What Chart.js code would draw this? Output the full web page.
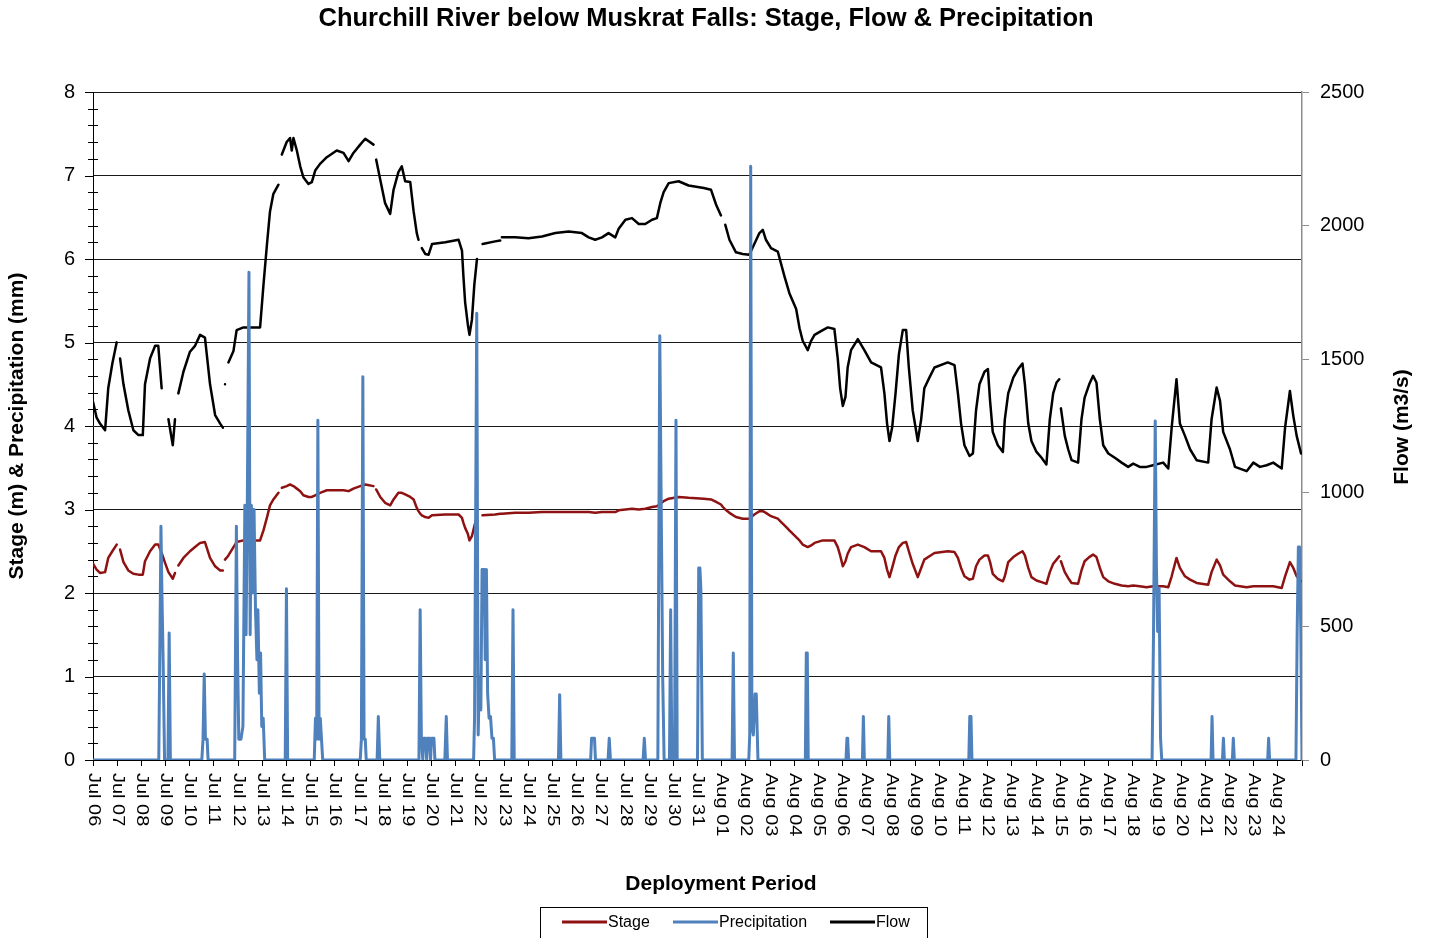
<!DOCTYPE html>
<html>
<head>
<meta charset="utf-8">
<script src="https://cdn.jsdelivr.net/npm/chart.js@4.4.1/dist/chart.umd.min.js"></script>
<style>
html,body{margin:0;padding:0;background:#fff;}
canvas{display:block;}
</style>
</head>
<body>
<canvas id="c" width="1429" height="938"></canvas>
<script>
// ---------------- DATA ----------------
const chartTitle = 'Churchill River below Muskrat Falls: Stage, Flow & Precipitation';
const xTickLabels = [
  'Jul 06','Jul 07','Jul 08','Jul 09','Jul 10','Jul 11','Jul 12','Jul 13','Jul 14','Jul 15',
  'Jul 16','Jul 17','Jul 18','Jul 19','Jul 20','Jul 21','Jul 22','Jul 23','Jul 24','Jul 25',
  'Jul 26','Jul 27','Jul 28','Jul 29','Jul 30','Jul 31','Aug 01','Aug 02','Aug 03','Aug 04',
  'Aug 05','Aug 06','Aug 07','Aug 08','Aug 09','Aug 10','Aug 11','Aug 12','Aug 13','Aug 14',
  'Aug 15','Aug 16','Aug 17','Aug 18','Aug 19','Aug 20','Aug 21','Aug 22','Aug 23','Aug 24'
];
const stageTickLabels = ['0','1','2','3','4','5','6','7','8'];
const flowTickLabels = ['0','500','1000','1500','2000','2500'];

// time in days since Jul 06 00:00 (stage & flow share the same samples)
const sfDays = [
  0.00,0.15,0.29,0.50,0.63,0.80,0.98,1.05,1.12,1.26,1.46,1.67,1.88,2.06,2.15,2.36,2.57,2.70,2.84,2.98,
  3.12,3.30,3.39,3.45,3.53,3.74,4.01,4.22,4.43,4.63,4.84,5.05,5.26,5.37,5.41,5.46,5.52,5.60,5.81,5.94,
  6.22,6.63,6.91,7.05,7.19,7.32,7.46,7.67,7.74,7.81,8.01,8.15,8.22,8.29,8.43,8.57,8.70,8.91,9.05,9.19,
  9.39,9.67,10.08,10.36,10.57,10.77,11.05,11.26,11.60,11.65,11.71,11.88,12.08,12.29,12.43,12.63,12.77,12.91,13.12,13.26,
  13.39,13.46,13.53,13.60,13.74,13.88,14.02,14.57,15.12,15.26,15.32,15.39,15.50,15.57,15.67,15.77,15.88,16.00,16.11,16.63,
  16.84,16.87,16.91,17.46,18.01,18.57,19.12,19.67,20.22,20.50,20.77,21.05,21.32,21.60,21.74,22.02,22.29,22.57,22.84,23.12,
  23.32,23.46,23.60,23.81,24.22,24.63,25.26,25.56,25.77,25.97,26.05,26.15,26.32,26.59,26.87,27.14,27.35,27.56,27.70,27.83,
  28.04,28.32,28.46,28.60,28.80,29.08,29.22,29.35,29.56,29.70,29.84,30.18,30.39,30.66,30.80,30.90,31.01,31.12,31.21,31.35,
  31.63,31.90,32.18,32.59,32.73,32.84,32.94,33.05,33.19,33.33,33.49,33.63,33.74,33.90,34.11,34.25,34.38,34.59,34.80,35.35,
  35.63,35.77,35.90,36.04,36.25,36.39,36.52,36.66,36.87,37.01,37.10,37.21,37.42,37.63,37.71,37.85,38.06,38.26,38.44,38.54,
  38.68,38.81,39.02,39.23,39.43,39.57,39.71,39.85,39.96,40.00,40.03,40.19,40.33,40.47,40.74,40.88,41.01,41.20,41.36,41.50,
  41.64,41.78,41.99,42.26,42.54,42.81,43.02,43.29,43.57,43.84,44.26,44.47,44.61,44.81,44.95,45.16,45.37,45.64,46.12,46.26,
  46.47,46.61,46.74,47.02,47.23,47.71,47.99,48.26,48.54,48.81,49.16,49.30,49.50,49.64,49.78,49.96
];
const stageM = [
  2.35,2.28,2.24,2.25,2.42,2.50,2.58,null,2.52,2.37,2.27,2.23,2.22,2.22,2.38,2.50,2.58,2.58,2.48,2.36,
  2.25,2.17,2.24,null,2.33,2.42,2.50,2.55,2.60,2.61,2.42,2.32,2.27,2.27,null,2.40,2.42,2.45,2.55,2.61,
  2.63,2.63,2.63,2.75,2.90,3.05,3.12,3.20,null,3.26,3.28,3.30,3.29,3.28,3.25,3.22,3.17,3.15,3.15,3.17,
  3.20,3.23,3.23,3.23,3.22,3.25,3.28,3.30,3.28,null,3.24,3.15,3.08,3.05,3.12,3.20,3.20,3.18,3.15,3.12,
  3.02,2.98,2.95,2.93,2.91,2.90,2.93,2.94,2.94,2.90,2.84,2.78,2.71,2.63,2.68,2.80,2.92,null,2.93,2.94,
  2.95,2.95,2.95,2.96,2.96,2.97,2.97,2.97,2.97,2.97,2.96,2.97,2.97,2.97,2.99,3.00,3.01,3.00,3.01,3.03,
  3.04,3.07,3.10,3.13,3.15,3.14,3.13,3.12,3.09,3.06,3.03,3.00,2.96,2.91,2.89,2.89,2.94,2.98,2.98,2.96,
  2.92,2.89,2.85,2.81,2.75,2.67,2.63,2.58,2.55,2.57,2.60,2.63,2.63,2.63,2.55,2.45,2.32,2.38,2.47,2.55,
  2.58,2.55,2.50,2.50,2.42,2.28,2.19,2.30,2.45,2.55,2.60,2.61,2.50,2.35,2.19,2.30,2.40,2.44,2.48,2.50,
  2.49,2.42,2.30,2.20,2.16,2.17,2.32,2.40,2.45,2.45,2.37,2.23,2.17,2.14,2.20,2.37,2.43,2.47,2.50,2.45,
  2.30,2.19,2.15,2.13,2.11,2.25,2.35,2.40,2.44,null,2.38,2.25,2.18,2.12,2.11,2.27,2.38,2.43,2.46,2.43,
  2.30,2.19,2.14,2.11,2.09,2.08,2.09,2.08,2.07,2.08,2.08,2.07,2.20,2.42,2.30,2.20,2.16,2.12,2.10,2.25,
  2.40,2.33,2.22,2.14,2.09,2.07,2.08,2.08,2.08,2.08,2.06,2.20,2.37,2.30,2.20,2.14
];
const flowM3s = [
  1341,1281,1259,1234,1391,1484,1563,null,1503,1406,1309,1234,1216,1216,1406,1503,1550,1550,1391,null,
  1275,1178,1275,null,1372,1453,1528,1550,1591,1581,1406,1291,1259,1244,null,1406,null,1488,1531,1609,
  1619,1619,1619,1778,1925,2053,2119,2153,null,2266,2313,2328,2281,2328,2281,2222,2181,2156,2163,2206,
  2231,2256,2281,2272,2241,2272,2303,2325,2303,null,2247,2172,2084,2044,2134,2200,2222,2166,2163,2053,
  1972,1947,null,1916,1894,1891,1931,1938,1947,1906,1809,1713,1631,1591,1647,1778,1875,null,1931,1941,
  1944,null,1956,1956,1953,1959,1972,1978,1972,1956,1947,1956,1972,1956,1988,2022,2028,2006,2006,2022,
  2028,2084,2125,2159,2166,2150,2141,2134,2078,2038,null,2003,1947,1900,1894,1891,1931,1972,1984,1947,
  1916,1903,1856,1809,1747,1688,1616,1569,1534,1569,1591,1609,1619,1613,1503,1391,1325,1359,1469,1534,
  1575,1534,1488,1469,1372,1259,1194,1244,1372,1519,1609,1609,1469,1309,1194,1275,1391,1431,1469,1488,
  1478,1372,1259,1178,1138,1147,1309,1406,1453,1463,1344,1228,1178,1153,1275,1372,1431,1463,1484,1406,
  1259,1194,1153,1131,1106,1275,1372,1413,1425,null,1316,1213,1163,1122,1113,1275,1356,1406,1438,1413,
  1275,1178,1147,1131,1113,1097,1109,1097,1097,1103,1113,1091,1244,1425,1259,1213,1163,1122,1113,1275,
  1394,1344,1228,1163,1097,1081,1113,1097,1103,1113,1091,1244,1381,1288,1213,1147
];

const precipDays = [
  0.00,2.72,2.77,2.81,2.85,2.90,2.96,3.10,3.15,3.20,4.50,4.55,4.60,4.65,4.72,4.76,
  5.86,5.93,5.98,6.03,6.12,6.20,6.28,6.33,6.38,6.45,6.50,6.55,6.60,6.66,6.72,6.78,6.82,6.88,6.93,6.98,7.04,7.10,
  7.95,8.00,8.05,9.15,9.20,9.25,9.30,9.35,9.40,9.45,9.50,
  11.05,11.10,11.16,11.21,11.26,11.30,11.75,11.80,11.86,
  13.48,13.53,13.58,13.64,13.68,13.76,13.80,13.84,13.92,13.96,14.00,14.10,14.14,14.55,14.61,14.66,
  15.74,15.78,15.87,15.93,15.98,16.04,16.09,16.18,16.22,16.27,16.32,16.38,16.44,16.50,16.56,16.61,
  17.32,17.37,17.42,19.25,19.30,19.35,20.58,20.62,20.74,20.78,21.30,21.35,21.40,22.75,22.80,22.85,
  23.36,23.44,23.50,23.56,23.62,23.84,23.89,23.94,24.05,24.11,24.16,25.00,25.05,25.10,25.14,25.20,
  26.43,26.48,26.53,27.12,27.16,27.20,27.25,27.31,27.38,27.43,27.50,29.46,29.50,29.54,29.58,
  31.14,31.18,31.21,31.25,31.82,31.86,31.90,32.87,32.91,32.95,36.22,36.26,36.31,36.35,
  43.80,43.86,43.93,43.98,44.03,44.09,44.15,44.20,46.24,46.28,46.32,46.71,46.75,46.79,
  47.12,47.16,47.20,48.58,48.62,48.66,49.75,49.80,49.85,49.90,49.95,50.00
];
const precipMm = [
  0,0,1.5,2.8,2.0,1.2,0,0,1.52,0,0,0.25,1.03,0.25,0.25,0,
  0,2.8,1.2,0.25,0.25,0.4,3.05,1.5,3.0,5.84,1.5,3.05,2.0,3.0,1.8,1.2,1.8,0.8,1.28,0.4,0.5,0,
  0,2.05,0,0,0.5,0.25,4.07,0.25,0.5,0.25,0,
  0,0.25,4.59,0.25,0.25,0,0,0.52,0,
  0,1.8,0.25,0,0.26,0.26,0,0.26,0.26,0,0.26,0.26,0,0,0.52,0,
  0,0.5,5.35,0.3,1.0,0.6,2.28,2.28,1.2,2.28,0.8,0.5,0.52,0.26,0.26,0,
  0,1.8,0,0,0.78,0,0,0.26,0.26,0,0,0.26,0,0,0.26,0,
  0,5.08,3.0,1.0,0,0,1.8,0,0,4.07,0,0,2.3,2.3,2.04,0,
  0,1.28,0,0,0.3,7.11,0.4,0.3,0.79,0.79,0,0,1.28,1.28,0,
  0,0.26,0.26,0,0,0.52,0,0,0.52,0,0,0.52,0.52,0,
  0,1.54,4.06,2.3,1.54,2.06,0.26,0,0,0.52,0,0,0.26,0,
  0,0.26,0,0,0.26,0,0,1.54,2.55,2.55,1.54,0
];

// ---------------- STYLE ----------------
const FONT = "'Liberation Sans', Arial, Helvetica, sans-serif";
const STAGE_COLOR = '#8E1212';
const PRECIP_COLOR = '#4F81BD';
const FLOW_COLOR = '#000000';

const toPts = (xs, ys) => xs.map((d, i) => ({ x: d, y: ys[i] }));
const isWhole = v => Math.abs(v - Math.round(v)) < 1e-6;

const decor = {
  id: 'decor',
  beforeDatasetsDraw(chart) {
    const ctx = chart.ctx, y = chart.scales.y, a = chart.chartArea;
    ctx.save();
    ctx.strokeStyle = '#000';
    ctx.lineWidth = 1;
    for (let k = 0; k <= 40; k++) {
      const py = Math.round(y.getPixelForValue(k / 5)) + 0.5;
      ctx.beginPath();
      if (k % 5 === 0) { ctx.moveTo(a.left - 8, py); ctx.lineTo(a.left, py); }
      else { ctx.moveTo(a.left - 5, py); ctx.lineTo(a.left + 5, py); }
      ctx.stroke();
    }
    ctx.restore();
  },
  afterDraw(chart) {
    const ctx = chart.ctx, x = chart.scales.x, a = chart.chartArea;
    ctx.save();
    ctx.fillStyle = '#000';
    // rotated x tick labels (reading top to bottom)
    ctx.font = '20px ' + FONT;
    ctx.textAlign = 'left';
    ctx.textBaseline = 'middle';
    xTickLabels.forEach((lab, i) => {
      const px = x.getPixelForValue(i);
      ctx.save();
      ctx.translate(px, a.bottom + 13);
      ctx.rotate(Math.PI / 2);
      ctx.scale(1, 0.8);
      ctx.fillText(lab, 0, 0);
      ctx.restore();
    });
    // x axis title
    ctx.font = 'bold 21px ' + FONT;
    ctx.textAlign = 'center';
    ctx.textBaseline = 'alphabetic';
    ctx.fillText('Deployment Period', 721, 890);
    // right axis title (reads bottom to top)
    ctx.save();
    ctx.translate(1402, 427);
    ctx.rotate(-Math.PI / 2);
    ctx.textBaseline = 'middle';
    ctx.fillText('Flow (m3/s)', 0, 0);
    ctx.restore();
    // legend
    ctx.strokeStyle = '#000';
    ctx.lineWidth = 1;
    ctx.strokeRect(540.5, 907.5, 387, 40);
    const items = [
      { label: 'Stage', color: STAGE_COLOR, x0: 562, x1: 607 },
      { label: 'Precipitation', color: PRECIP_COLOR, x0: 673, x1: 718 },
      { label: 'Flow', color: FLOW_COLOR, x0: 830, x1: 875 }
    ];
    ctx.font = '16px ' + FONT;
    ctx.textAlign = 'left';
    ctx.textBaseline = 'middle';
    items.forEach(it => {
      ctx.strokeStyle = it.color;
      ctx.lineWidth = 3;
      ctx.beginPath();
      ctx.moveTo(it.x0, 922);
      ctx.lineTo(it.x1, 922);
      ctx.stroke();
      ctx.fillStyle = '#000';
      ctx.fillText(it.label, it.x1 + 1, 922.5);
    });
    ctx.restore();
  }
};

const common = { pointRadius: 0, pointHoverRadius: 0, tension: 0, spanGaps: false, fill: false,
  borderJoinStyle: 'round', borderCapStyle: 'round' };

new Chart(document.getElementById('c'), {
  type: 'line',
  data: {
    datasets: [
      Object.assign({ label: 'Precipitation', data: toPts(precipDays, precipMm), yAxisID: 'y',
        borderColor: PRECIP_COLOR, backgroundColor: PRECIP_COLOR, borderWidth: 3, order: 0 }, common),
      Object.assign({ label: 'Flow', data: toPts(sfDays, flowM3s), yAxisID: 'yFlow',
        borderColor: FLOW_COLOR, backgroundColor: FLOW_COLOR, borderWidth: 2.5, order: 1 }, common),
      Object.assign({ label: 'Stage', data: toPts(sfDays, stageM), yAxisID: 'y',
        borderColor: STAGE_COLOR, backgroundColor: STAGE_COLOR, borderWidth: 2.5, order: 2 }, common)
    ]
  },
  options: {
    responsive: false,
    animation: false,
    events: [],
    layout: { padding: { left: 0, right: 17, top: 0, bottom: 0 } },
    plugins: {
      legend: { display: false },
      tooltip: { enabled: false },
      title: {
        display: true, text: chartTitle, color: '#000',
        font: { family: FONT, size: 25.5, weight: 'bold' },
        padding: { top: 4, bottom: 57.4 }
      }
    },
    scales: {
      x: {
        type: 'linear', min: 0, max: 50,
        afterFit: s => { s.height = 178; },
        ticks: { display: false, stepSize: 1, maxTicksLimit: 100, autoSkip: false },
        grid: { drawOnChartArea: false, drawTicks: true, tickLength: 6, color: '#000', tickColor: '#000' },
        border: { display: true, color: '#000', width: 1 }
      },
      y: {
        type: 'linear', position: 'left', min: 0, max: 8,
        afterFit: s => { s.width = 93; },
        ticks: { stepSize: 1, autoSkip: false, padding: 18, color: '#000',
          font: { family: FONT, size: 20 },
          callback: v => isWhole(v) ? stageTickLabels[Math.round(v)] : '' },
        grid: { color: '#1a1a1a', lineWidth: 1, drawTicks: false },
        border: { display: true, color: '#000', width: 1 },
        title: { display: true, text: 'Stage (m) & Precipitation (mm)', color: '#000',
          font: { family: FONT, size: 21, weight: 'bold' }, padding: { top: 5, bottom: 0 } }
      },
      yFlow: {
        type: 'linear', position: 'right', min: 0, max: 2500,
        afterFit: s => { s.width = 110; },
        ticks: { stepSize: 500, autoSkip: false, padding: 11, color: '#000',
          font: { family: FONT, size: 20 },
          callback: v => flowTickLabels[Math.round(v / 500)] },
        grid: { drawOnChartArea: false, drawTicks: true, tickLength: 7, color: '#8c8c8c', tickColor: '#8c8c8c' },
        border: { display: true, color: '#8c8c8c', width: 1.5 }
      }
    }
  },
  plugins: [decor]
});
</script>
</body>
</html>
